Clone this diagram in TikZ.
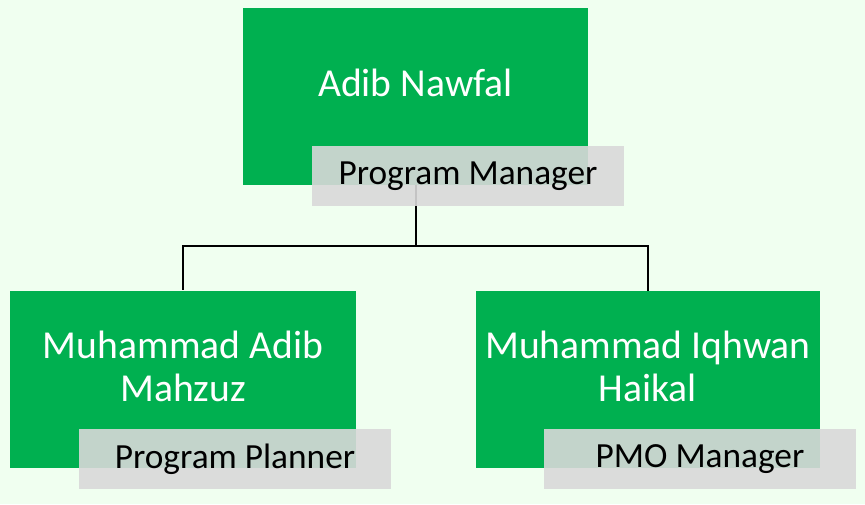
\documentclass[tikz,border=0pt]{standalone}
\usepackage{fontspec}
\setmainfont{Carlito}
\definecolor{bgc}{HTML}{F0FFF0}
\definecolor{boxg}{HTML}{00B050}
\definecolor{labg}{HTML}{D9D9D9}
\begin{document}
\begin{tikzpicture}[x=0.75pt,y=-0.75pt,
  gbox/.style={fill=boxg,draw=none,minimum width=#1*0.75pt,minimum height=177*0.75pt,inner sep=0pt},
  lbox/.style={fill=labg,fill opacity=0.9,text opacity=1,draw=none,minimum width=312*0.75pt,minimum height=60*0.75pt,inner sep=0pt,font=\fontsize{26.5}{30}\selectfont,text=black},
  nametext/.style={text=white,align=center,font=\fontsize{29.7}{32.2}\selectfont,inner sep=0pt},
  conn/.style={draw=black,line width=1.5pt}]
\fill[bgc] (0,0) rectangle (865,504);
\useasboundingbox (0,0) rectangle (865,504);
% green boxes
\node[gbox=345] (top) at (415.5,96.5) {};
\node[gbox=346] (left) at (183,379) {};
\node[gbox=344] (right) at (648,379.5) {};
% connectors
\coordinate (mid) at (416,246);
\draw[conn] (top.south -| mid) -- (mid) -| (left.north);
\draw[conn] (mid) -| (right.north);
% names
\node[nametext] (topname) at (415.5,83) {Adib Nawfal};
\node[nametext] (leftname) at (183,366) {Muhammad Adib\\Mahzuz};
\node[nametext] (rightname) at (648,366) {Muhammad Iqhwan\\Haikal};
% labels
\node[lbox] (toplab) at (468,176) {Program Manager};
\node[lbox] (leftlab) at (235,459) {Program Planner};
\node[lbox] (rightlab) at (700,459) {PMO Manager};
\end{tikzpicture}
\end{document}
